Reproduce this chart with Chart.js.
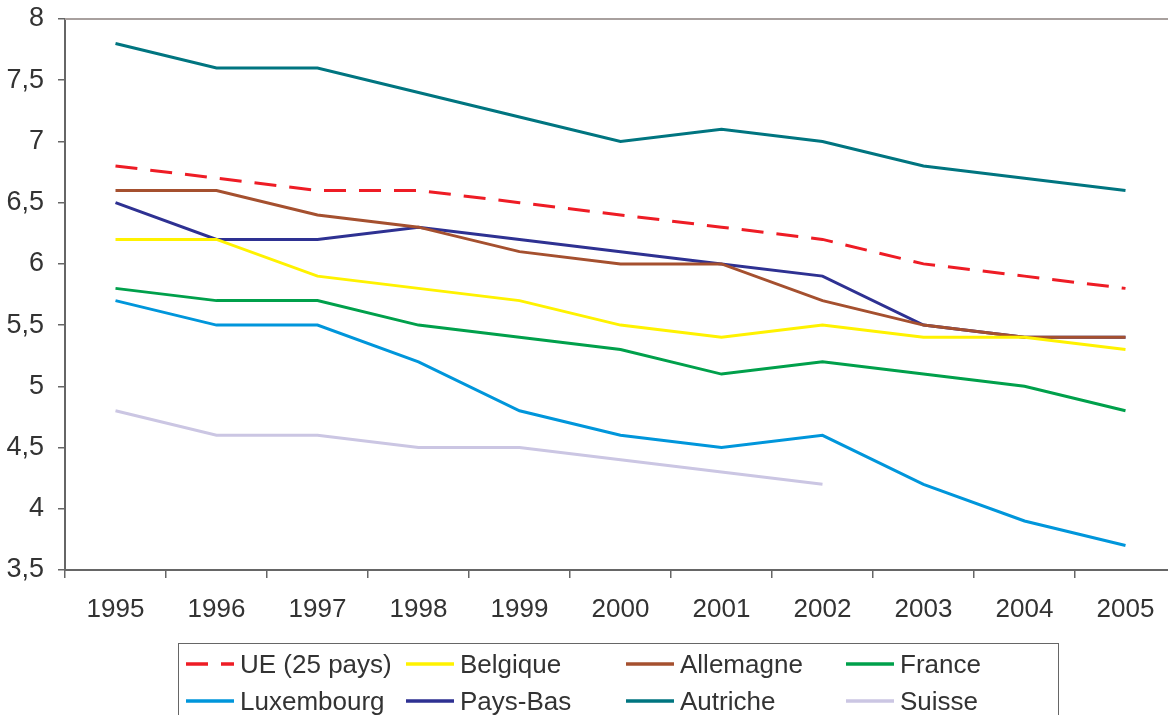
<!DOCTYPE html>
<html>
<head>
<meta charset="utf-8">
<script src="https://cdn.jsdelivr.net/npm/chart.js@4/dist/chart.umd.min.js"></script>
<style>
  html, body { margin: 0; padding: 0; background: #fff; overflow: hidden; }
  #wrap { position: relative; width: 1176px; height: 715px; }
  #legend {
    position: absolute; left: 178px; top: 643px; width: 881px; height: 100px;
    border: 1.5px solid #666; box-sizing: border-box;
    font-family: "Liberation Sans", Arial, sans-serif; font-size: 26px; color: #333;
  }
  .item { position: absolute; height: 30px; display: flex; align-items: center; white-space: nowrap; }
  .item svg { margin-right: 6px; }
</style>
</head>
<body>
<div id="wrap">
  <canvas id="chart"></canvas>
  <div id="legend"></div>
</div>
<script>
const years = ['1995', '1996', '1997', '1998', '1999', '2000', '2001', '2002', '2003', '2004', '2005'];
const yTicks = [3.5, 4, 4.5, 5, 5.5, 6, 6.5, 7, 7.5, 8];

const ue = [6.8, 6.7, 6.6, 6.6, 6.5, 6.4, 6.3, 6.2, 6.0, 5.9, 5.8];
const belgique = [6.2, 6.2, 5.9, 5.8, 5.7, 5.5, 5.4, 5.5, 5.4, 5.4, 5.3];
const allemagne = [6.6, 6.6, 6.4, 6.3, 6.1, 6.0, 6.0, 5.7, 5.5, 5.4, 5.4];
const france = [5.8, 5.7, 5.7, 5.5, 5.4, 5.3, 5.1, 5.2, 5.1, 5.0, 4.8];
const luxembourg = [5.7, 5.5, 5.5, 5.2, 4.8, 4.6, 4.5, 4.6, 4.2, 3.9, 3.7];
const paysBas = [6.5, 6.2, 6.2, 6.3, 6.2, 6.1, 6.0, 5.9, 5.5, 5.4, 5.4];
const autriche = [7.8, 7.6, 7.6, 7.4, 7.2, 7.0, 7.1, 7.0, 6.8, 6.7, 6.6];
const suisse = [4.8, 4.6, 4.6, 4.5, 4.5, 4.4, 4.3, 4.2, null, null, null];

const FONT = '"Liberation Sans", Arial, sans-serif';

const series = [
  { label: 'UE (25 pays)', data: ue, color: '#ee1c25', dash: [22, 13] },
  { label: 'Belgique', data: belgique, color: '#fff200' },
  { label: 'Allemagne', data: allemagne, color: '#a5502f' },
  { label: 'France', data: france, color: '#00a04b' },
  { label: 'Luxembourg', data: luxembourg, color: '#0096db' },
  { label: 'Pays-Bas', data: paysBas, color: '#2e3192' },
  { label: 'Autriche', data: autriche, color: '#007580' },
  { label: 'Suisse', data: suisse, color: '#cbc6e3' }
];

// ligne du haut du cadre
const topBorder = {
  id: 'topBorder',
  afterDraw(chart) {
    const { ctx, chartArea } = chart;
    ctx.save();
    ctx.strokeStyle = '#a8a09e';
    ctx.lineWidth = 2;
    ctx.beginPath();
    ctx.moveTo(chartArea.left, chartArea.top);
    ctx.lineTo(chart.width, chartArea.top);
    ctx.stroke();
    ctx.restore();
  }
};

new Chart(document.getElementById('chart'), {
  type: 'line',
  data: {
    labels: years,
    datasets: series.map(s => ({
      label: s.label,
      data: s.data,
      borderColor: s.color,
      backgroundColor: s.color,
      borderWidth: 3,
      borderDash: s.dash || [],
      pointRadius: 0,
      tension: 0,
      spanGaps: false
    }))
  },
  options: {
    responsive: true,
    maintainAspectRatio: false,
    animation: false,
    layout: { padding: { top: 19, left: 0, right: 0, bottom: 0 } },
    plugins: { legend: { display: false }, tooltip: { enabled: false } },
    scales: {
      x: {
        offset: true,
        grid: { offset: true, drawOnChartArea: false, drawTicks: true, tickLength: 8, color: '#666', lineWidth: 1.5 },
        border: { color: '#666', width: 2 },
        ticks: { color: '#333', font: { family: FONT, size: 26 }, padding: 16, maxRotation: 0 },
        afterFit(scale) { scale.height = 145; scale.paddingLeft = 0; scale.paddingRight = 0; }
      },
      y: {
        min: 3.5,
        max: 8,
        afterBuildTicks(scale) { scale.ticks = yTicks.map(v => ({ value: v })); },
        grid: { drawOnChartArea: false, drawTicks: true, tickLength: 7, color: '#666', lineWidth: 1.5 },
        border: { color: '#666', width: 2 },
        ticks: {
          color: '#333', font: { family: FONT, size: 27 }, padding: 14,
          callback: v => String(v).replace('.', ',')
        },
        afterFit(scale) { scale.width = 65; scale.paddingTop = 0; scale.paddingBottom = 0; }
      }
    }
  },
  plugins: [topBorder]
});

// === LEGENDE en grille 4 colonnes ===
const legend = document.getElementById('legend');
series.forEach((s, i) => {
  const col = i % 4, row = Math.floor(i / 4);
  const item = document.createElement('div');
  item.className = 'item';
  item.style.left = (7 + col * 220) + 'px';
  item.style.top = (5 + row * 37) + 'px';
  const dash = s.dash ? `stroke-dasharray="${s.dash.join(' ')}"` : '';
  item.innerHTML = `<svg width="48" height="6"><line x1="0" y1="3" x2="48" y2="3" stroke="${s.color}" stroke-width="3.5" ${dash}/></svg><span>${s.label}</span>`;
  legend.appendChild(item);
});
</script>
</body>
</html>
